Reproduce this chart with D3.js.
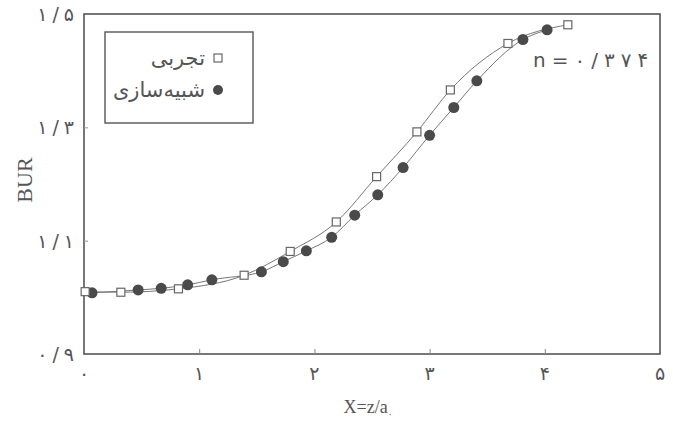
<!DOCTYPE html>
<html>
<head>
<meta charset="utf-8">
<script src="https://cdn.jsdelivr.net/npm/d3@7"></script>
<style>
  html, body { margin: 0; padding: 0; background: #fff; }
  #chart { width: 673px; height: 421px; }
  .fa { font-family: "DejaVu Sans", sans-serif; fill: #555; }
  .lat { font-family: "Liberation Serif", "DejaVu Serif", serif; fill: #555; }
</style>
</head>
<body>
<div id="chart"></div>
<script>
// تجربی (experimental, open squares)
const expX = [0.01, 0.32, 0.82, 1.39, 1.79, 2.19, 2.54, 2.89, 3.18, 3.68, 4.20];
const expY = [1.010, 1.009, 1.015, 1.039, 1.081, 1.133, 1.213, 1.292, 1.366, 1.448, 1.481];
// شبیه‌سازی (simulation, filled circles)
const simX = [0.07, 0.47, 0.67, 0.90, 1.11, 1.54, 1.73, 1.93, 2.15, 2.35, 2.55, 2.77, 3.00, 3.21, 3.41, 3.81, 4.02];
const simY = [1.008, 1.013, 1.016, 1.022, 1.031, 1.045, 1.063, 1.082, 1.106, 1.145, 1.181, 1.229, 1.286, 1.335, 1.382, 1.455, 1.472];

const xTicks = [0, 1, 2, 3, 4, 5];
const xTickLabels = ["۰", "۱", "۲", "۳", "۴", "۵"];
const yTicks = [0.9, 1.1, 1.3, 1.5];
const yTickLabels = ["۰/۹", "۱/۱", "۱/۳", "۱/۵"];
const legendLabels = ["تجربی", "شبیه‌سازی"];
const note = "n=۰/۳۷۴";

const W = 673, H = 421;
const m = { t: 14, r: 13, b: 67, l: 84 };
const svg = d3.select("#chart").append("svg").attr("width", W).attr("height", H);

const x = d3.scaleLinear().domain([0, 5]).range([m.l, W - m.r]);
const y = d3.scaleLinear().domain([0.9, 1.5]).range([H - m.b, m.t]);

const ink = "#555";

// letter-spacing is ignored for Arabic digits, so space them with tspans
function spaced(sel, str, gap) {
  Array.from(str).forEach((c, i) => sel.append("tspan").attr("dx", i ? gap : 0).text(c));
}

// frame
svg.append("rect")
  .attr("x", x(0)).attr("y", y(1.5))
  .attr("width", x(5) - x(0)).attr("height", y(0.9) - y(1.5))
  .attr("fill", "none").attr("stroke", ink).attr("stroke-width", 1.6);

// inward ticks
svg.append("g").attr("transform", `translate(0,${y(0.9)})`)
  .call(d3.axisBottom(x).tickValues(xTicks.slice(1, -1)).tickSizeInner(-5).tickSizeOuter(0).tickFormat(""))
  .call(g => g.select(".domain").remove())
  .call(g => g.selectAll("line").attr("stroke", "#888"));
svg.append("g").attr("transform", `translate(${x(0)},0)`)
  .call(d3.axisLeft(y).tickValues(yTicks.slice(1, -1)).tickSizeInner(-4).tickSizeOuter(0).tickFormat(""))
  .call(g => g.select(".domain").remove())
  .call(g => g.selectAll("line").attr("stroke", "#999"));

// tick labels
svg.append("g").selectAll("text").data(xTicks).join("text")
  .attr("class", "fa").attr("x", d => x(d)).attr("y", y(0.9) + 26)
  .attr("text-anchor", "middle").attr("font-size", 19)
  .text((d, i) => xTickLabels[i]);
svg.append("g").selectAll("text").data(yTicks).join("text")
  .attr("class", "fa").attr("x", 74).attr("y", d => y(d) + 7)
  .attr("text-anchor", "end").attr("font-size", 19)
  .each(function (d, i) { spaced(d3.select(this), yTickLabels[i], 5); });

// axis titles
svg.append("text").attr("class", "lat")
  .attr("transform", `translate(32,${(y(0.9) + y(1.5)) / 2 - 4}) rotate(-90)`)
  .attr("text-anchor", "middle").attr("font-size", 22).text("BUR");
const xt = svg.append("text").attr("class", "lat")
  .attr("x", (x(0) + x(5)) / 2 - 4).attr("y", 413)
  .attr("text-anchor", "middle").attr("font-size", 18);
xt.append("tspan").text("X=z/a");
xt.append("tspan").attr("class", "fa").attr("font-size", 9).attr("dy", 4).text("۰");

// curves
const line = d3.line().x(d => x(d[0])).y(d => y(d[1])).curve(d3.curveMonotoneX);
const expPts = expX.map((v, i) => [v, expY[i]]);
const simPts = simX.map((v, i) => [v, simY[i]]);
svg.append("path").datum(expPts).attr("d", line)
  .attr("fill", "none").attr("stroke", "#777").attr("stroke-width", 1);
svg.append("path").datum(simPts).attr("d", line)
  .attr("fill", "none").attr("stroke", "#777").attr("stroke-width", 1);

// markers
svg.append("g").selectAll("circle").data(simPts).join("circle")
  .attr("cx", d => x(d[0])).attr("cy", d => y(d[1])).attr("r", 5.5)
  .attr("fill", "#4a4a4a");
svg.append("g").selectAll("rect").data(expPts).join("rect")
  .attr("x", d => x(d[0]) - 4).attr("y", d => y(d[1]) - 4)
  .attr("width", 8).attr("height", 8)
  .attr("fill", "#fff").attr("stroke", "#666").attr("stroke-width", 1.2);

// legend
svg.append("rect").attr("x", 105).attr("y", 32).attr("width", 148).attr("height", 91)
  .attr("fill", "#fff").attr("stroke", ink).attr("stroke-width", 1.4);
svg.append("rect").attr("x", 214).attr("y", 54).attr("width", 8).attr("height", 8)
  .attr("fill", "#fff").attr("stroke", "#666").attr("stroke-width", 1.2);
svg.append("circle").attr("cx", 218).attr("cy", 90).attr("r", 5)
  .attr("fill", "#4a4a4a");
svg.append("g").selectAll("text").data(legendLabels).join("text")
  .attr("class", "fa").attr("x", 205).attr("y", (d, i) => 65 + i * 32)
  .attr("text-anchor", "end").attr("font-size", 21)
  .text(d => d);

// annotation
const nt = svg.append("text").attr("class", "fa")
  .attr("x", 533).attr("y", 67).attr("font-size", 20);
spaced(nt, note, 6);
</script>
</body>
</html>
